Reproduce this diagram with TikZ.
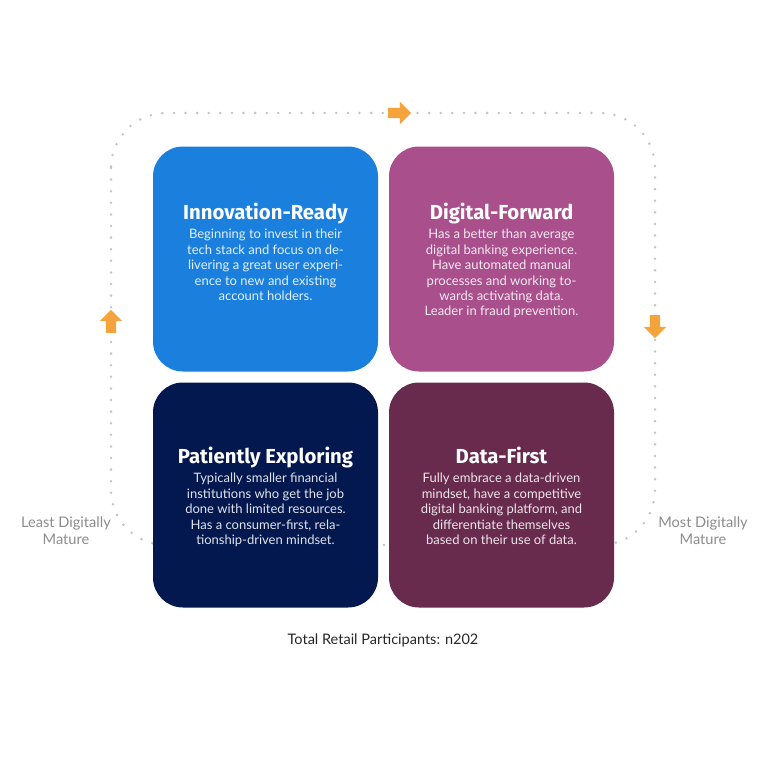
\documentclass[tikz,border=0pt]{standalone}
\usepackage{fontspec}
\setmainfont{Lato}
\newfontfamily\titlefont{Fira Sans}
\usetikzlibrary{positioning}
\usetikzlibrary{shapes.arrows}
\definecolor{readyblue}{HTML}{1B7FDD}
\definecolor{forwardpink}{HTML}{A94F8C}
\definecolor{explorenavy}{HTML}{03184F}
\definecolor{firstplum}{HTML}{682B4E}
\definecolor{arroworange}{HTML}{F5A33D}
\definecolor{dotgray}{HTML}{C4C4C4}
\definecolor{sidegray}{HTML}{8C8C8C}
\definecolor{captiongray}{HTML}{262626}

\begin{document}
\begin{tikzpicture}[x=1pt,y=-1pt,line cap=round,line join=round,
    quad/.style={rectangle,rounded corners=30pt,minimum width=225pt,minimum height=225pt,inner sep=0pt},
    quadtitle/.style={text=white,inner sep=0pt,text height=15pt,text depth=5pt,font=\titlefont\bfseries\fontsize{20.3}{23}\selectfont},
    quadtext/.style={text=white,text opacity=0.88,align=center,inner sep=0pt,font=\fontsize{13}{15.4}\selectfont},
    sidelabel/.style={text=sidegray,align=center,inner sep=0pt,font=\fontsize{14.6}{17}\selectfont},
    flowarrow/.style={single arrow,fill=arroworange,draw=none,inner sep=5pt,minimum height=23pt,minimum width=22pt,single arrow head extend=6pt}]
        \useasboundingbox (0,0) rectangle (768,768);
        % dotted loop, mostly hidden behind the four boxes
        \draw[dotgray,line width=2.8pt,dash pattern=on 0pt off 11.6pt,rounded corners=55pt] (111,113) rectangle (655,545);
        % the four quadrants
        \node[quad,fill=readyblue] (ready) at (265.5,259) {};
        \node[quad,fill=forwardpink] (forward) at (501.5,259) {};
        \node[quad,fill=explorenavy] (explore) at (265.5,495) {};
        \node[quad,fill=firstplum] (first) at (501.5,495) {};
        \node[quadtitle] (readyT) at (265.5,214) {Innovation-Ready};
        \node[quadtext,below=5pt of readyT] (readyB) {Beginning to invest in their\\tech stack and focus on de-\\livering a great user experi-\\ence to new and existing\\account holders.};
        \node[quadtitle] (forwardT) at (501.5,214) {Digital-Forward};
        \node[quadtext,below=5pt of forwardT] (forwardB) {Has a better than average\\digital banking experience.\\Have automated manual\\processes and working to-\\wards activating data.\\Leader in fraud prevention.};
        \node[quadtitle] (exploreT) at (265.5,458) {Patiently Exploring};
        \node[quadtext,below=5pt of exploreT] (exploreB) {Typically smaller financial\\institutions who get the job\\done with limited resources.\\Has a consumer-first, rela-\\tionship-driven mindset.};
        \node[quadtitle] (firstT) at (501.5,458) {Data-First};
        \node[quadtext,below=5pt of firstT] (firstB) {Fully embrace a data-driven\\mindset, have a competitive\\digital banking platform, and\\differentiate themselves\\based on their use of data.};
        % arrows on the loop
        \node[flowarrow] (arrowtop) at (397,113) {};
        \node[flowarrow,rotate=90] (arrowleft) at (111,324) {};
        \node[flowarrow,rotate=-90] (arrowright) at (655,324) {};
        \node[sidelabel] (least) at (66,531) {Least Digitally\\Mature};
        \node[sidelabel] (most) at (703,531) {Most Digitally\\Mature};
        \node[text=captiongray,inner sep=0pt,font=\fontsize{14.5}{17}\selectfont] (total) at (383,640) {Total Retail Participants: n202};
      \end{tikzpicture}
\end{document}
